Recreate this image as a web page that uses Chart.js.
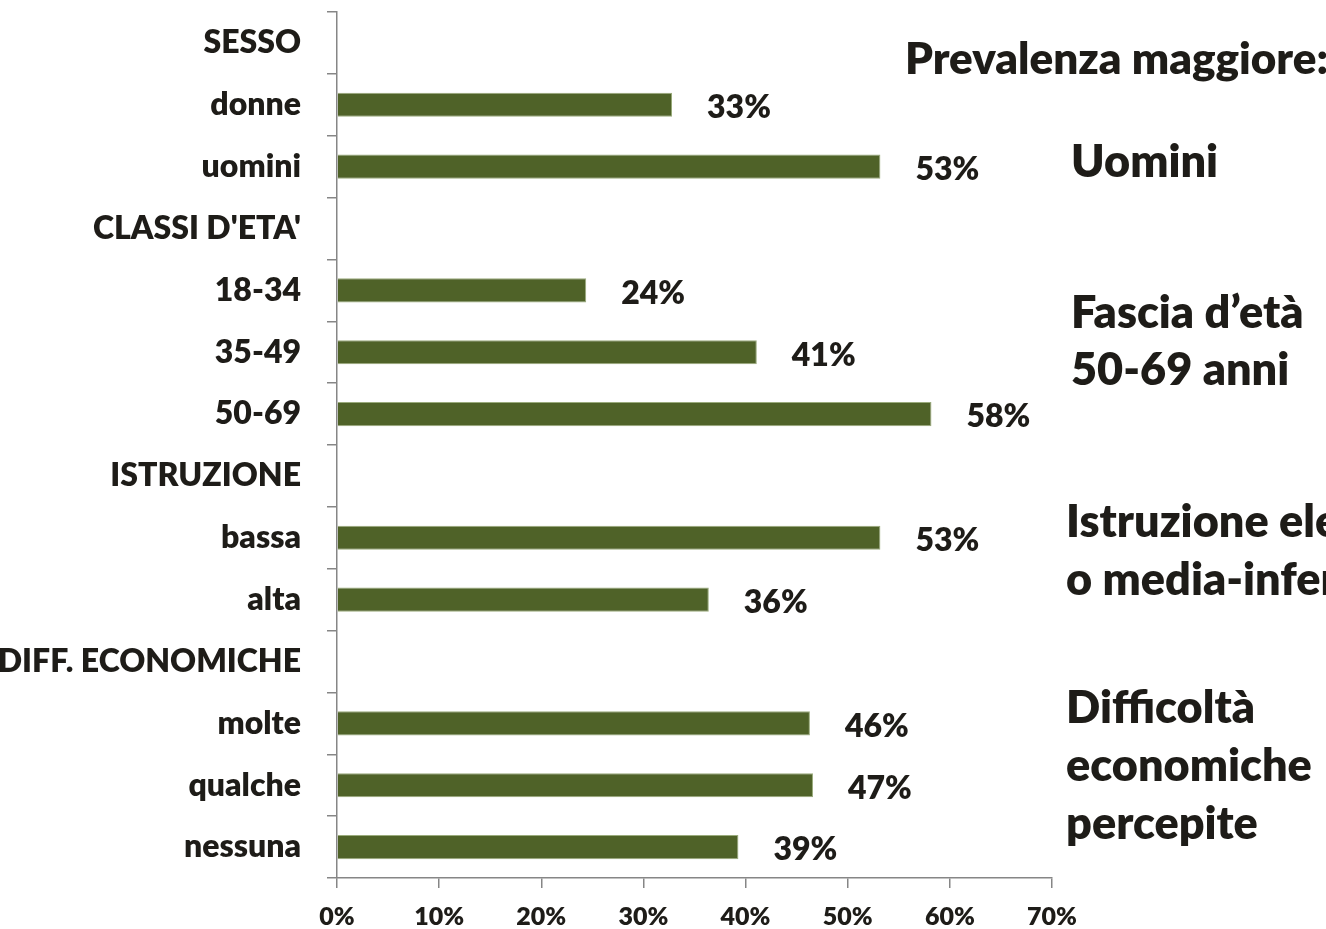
<!DOCTYPE html>
<html>
<head>
<meta charset="utf-8">
<script src="https://cdn.jsdelivr.net/npm/chart.js@4"></script>
<style>
  html, body { margin: 0; padding: 0; background: #ffffff; }
  #wrap { width: 1326px; height: 929px; position: relative; }
</style>
</head>
<body>
<div id="wrap"><canvas id="c" width="1326" height="929"></canvas></div>
<script>
const categories = ["SESSO", "donne", "uomini", "CLASSI D'ETA'", "18-34", "35-49", "50-69",
  "ISTRUZIONE", "bassa", "alta", "DIFF. ECONOMICHE", "molte", "qualche", "nessuna"];
const values = [null, 32.8, 53.2, null, 24.4, 41.1, 58.2, null, 53.2, 36.4, null, 46.3, 46.6, 39.3];
const valueLabels = ["", "33%", "53%", "", "24%", "41%", "58%", "", "53%", "36%", "", "46%", "47%", "39%"];
const xTicks = [0, 10, 20, 30, 40, 50, 60, 70];
const noteTitle = "Prevalenza maggiore:";
const notes = [
  ["Uomini"],
  ["Fascia d\u2019et\u00e0", "50-69 anni"],
  ["Istruzione elementare", "o media-inferiore"],
  ["Difficolt\u00e0", "economiche", "percepite"]
];

const FONT = "Lato, 'Open Sans', sans-serif";
const W = '800';
const TEXT = "#1e1c18";

const dataLabelPlugin = {
  id: 'dataLabels',
  afterDatasetsDraw(chart) {
    const ctx = chart.ctx;
    const meta = chart.getDatasetMeta(0);
    ctx.save();
    ctx.font = W + " 32px " + FONT;
    ctx.fillStyle = TEXT;
    ctx.textAlign = 'left';
    ctx.textBaseline = 'middle';
    meta.data.forEach((bar, i) => {
      if (values[i] == null) return;
      ctx.fillText(valueLabels[i], bar.x + 35, bar.y + 3);
    });
    ctx.restore();
  }
};

const notesPlugin = {
  id: 'notes',
  afterDraw(chart) {
    const ctx = chart.ctx;
    ctx.save();
    ctx.fillStyle = TEXT;
    ctx.textAlign = 'left';
    ctx.textBaseline = 'middle';
    ctx.font = W + " 44px " + FONT;
    ctx.fillText(noteTitle, 905, 60);
    ctx.font = W + " 45px " + FONT;
    const starts = [[1071, 162], [1071, 313], [1066, 522], [1066, 708]];
    const lh = [0, 57, 58, 58];
    notes.forEach((lines, k) => {
      lines.forEach((t, j) => {
        ctx.fillText(t, starts[k][0], starts[k][1] + j * lh[k]);
      });
    });
    ctx.restore();
  }
};

new Chart(document.getElementById('c'), {
  type: 'bar',
  data: {
    labels: categories,
    datasets: [{
      data: values,
      backgroundColor: '#4f6228',
      borderColor: '#9aab7c',
      borderWidth: 1,
      barPercentage: 0.6,
      categoryPercentage: 0.65
    }]
  },
  options: {
    indexAxis: 'y',
    responsive: false,
    animation: false,
    layout: { padding: { top: 12, right: 274, left: 0, bottom: 0 } },
    plugins: { legend: { display: false }, tooltip: { enabled: false } },
    scales: {
      x: {
        type: 'linear',
        min: 0, max: 70,
        afterBuildTicks(scale) { scale.ticks = xTicks.map(v => ({ value: v })); },
        afterFit(scale) { scale.height = 51; scale.paddingLeft = 0; scale.paddingRight = 0; },
        border: { color: '#868686', width: 1.5 },
        grid: { drawOnChartArea: false, tickLength: 10, color: '#868686', lineWidth: 1.5 },
        ticks: {
          callback: v => v + '%',
          font: { family: FONT, weight: W, size: 25 },
          color: TEXT,
          padding: 14,
          maxRotation: 0
        }
      },
      y: {
        type: 'category',
        offset: true,
        afterFit(scale) { scale.width = 337; scale.paddingTop = 0; scale.paddingBottom = 0; },
        border: { color: '#868686', width: 1.5 },
        grid: { drawOnChartArea: false, offset: true, tickLength: 10, color: '#868686', lineWidth: 1.5 },
        ticks: {
          font: { family: FONT, weight: W, size: 32 },
          color: TEXT,
          padding: 26,
          autoSkip: false
        }
      }
    }
  },
  plugins: [dataLabelPlugin, notesPlugin]
});
</script>
</body>
</html>
